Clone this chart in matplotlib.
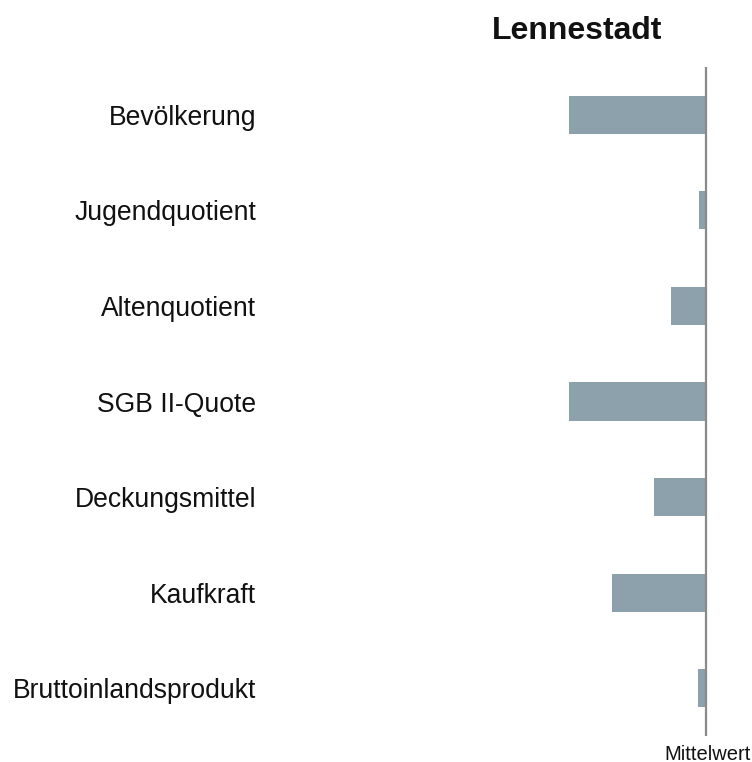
import matplotlib
matplotlib.use("Agg")
import matplotlib.pyplot as plt

plt.rcParams['font.family'] = ['Liberation Sans', 'DejaVu Sans']

title = "Lennestadt"
categories = ["Bevölkerung", "Jugendquotient", "Altenquotient", "SGB II-Quote",
              "Deckungsmittel", "Kaufkraft", "Bruttoinlandsprodukt"]
values = [-1.0, -0.053, -0.258, -1.0, -0.38, -0.69, -0.061]
ref_label = "Mittelwert"

W, H = 752, 762
fig = plt.figure(figsize=(W / 100, H / 100), dpi=100)

ax_left, ax_right = 569.3, 753.8
ax_top, ax_bottom = 67, 736
ax = fig.add_axes([ax_left / W, (H - ax_bottom) / H,
                   (ax_right - ax_left) / W, (ax_bottom - ax_top) / H])

ypos = list(range(len(categories)))
ax.barh(ypos, values, height=0.4, color="#8DA1AD", zorder=2)
ax.axvline(0, color="#8A8A8A", linewidth=1.6, zorder=3)

ax.set_xlim(-1.0, 0.35)
ax.set_ylim(len(categories) - 0.5, -0.5)
ax.set_xticks([])
ax.set_yticks(ypos)
ax.set_yticklabels(categories, fontsize=19.1, color="#111111")
ax.tick_params(axis="y", length=0, pad=(ax_left - 256) * 0.72)
for s in ax.spines.values():
    s.set_visible(False)

fig.text(577 / W, 1 - 31 / H, title, fontsize=23, fontweight="bold",
         ha="center", va="center", color="#111111")
fig.text(708 / W, 1 - 754 / H, ref_label, fontsize=14.5,
         ha="center", va="center", color="#111111")

fig.savefig("out.png", dpi=100, facecolor="white")
